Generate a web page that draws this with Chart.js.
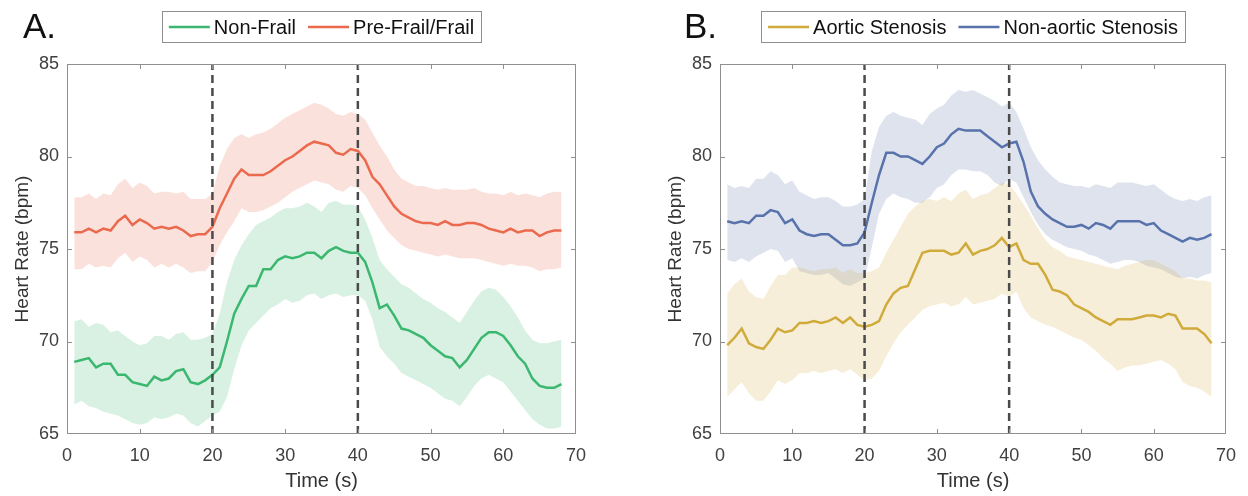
<!DOCTYPE html>
<html><head><meta charset="utf-8">
<script src="https://cdn.jsdelivr.net/npm/chart.js@4/dist/chart.umd.min.js"></script>
<style>
html,body{margin:0;padding:0;background:#fff;}
#wrap{position:relative;width:1248px;height:496px;overflow:hidden;}
.panel{position:absolute;top:0;width:624px;height:496px;}
</style></head><body>
<div id="wrap">
<div class="panel" style="left:0"><canvas id="chartA" width="624" height="496"></canvas></div>
<div class="panel" style="left:624px"><canvas id="chartB" width="624" height="496"></canvas></div>
</div>
<script>
// ---------- DATA ----------
const timeSec = [1,2,3,4,5,6,7,8,9,10,11,12,13,14,15,16,17,18,19,20,21,22,23,24,25,26,27,28,29,30,31,32,33,34,35,36,37,38,39,40,41,42,43,44,45,46,47,48,49,50,51,52,53,54,55,56,57,58,59,60,61,62,63,64,65,66,67,68];
const xTicks = [0,10,20,30,40,50,60,70];
const yTicks = [65,70,75,80,85];
const phaseMarks = [20,40];

const nonFrailMean = [68.9,69.0,69.1,68.6,68.8,68.8,68.2,68.2,67.8,67.7,67.6,68.1,67.9,68.0,68.4,68.5,67.8,67.7,67.9,68.2,
  68.6,70.0,71.5,72.3,73.0,73.0,73.9,73.9,74.4,74.6,74.5,74.6,74.8,74.8,74.5,74.9,75.1,74.9,74.8,74.8,
  74.3,73.2,71.8,72.0,71.4,70.7,70.6,70.4,70.2,69.8,69.5,69.2,69.1,68.6,69.0,69.6,70.2,70.5,70.5,70.3,69.8,69.2,68.8,68.0,67.6,67.5,67.5,67.7];
const nonFrailUpper = [71.1,71.2,70.8,71.0,70.9,70.5,70.6,70.3,70.0,69.8,69.9,70.3,70.3,70.1,70.4,70.5,70.1,70.1,70.2,70.4,
  71.5,73.2,74.4,75.2,75.8,76.3,76.5,76.7,77.0,77.2,77.2,77.3,77.5,77.3,77.0,77.5,77.6,77.4,77.4,77.3,
  76.6,75.6,74.4,73.9,73.5,73.1,72.9,72.6,72.3,72.1,71.8,71.6,71.3,71.0,71.6,72.2,72.7,72.9,72.8,72.4,71.9,71.3,70.6,70.1,69.9,69.9,70.0,70.1];
const nonFrailLower = [66.6,66.8,66.5,66.4,66.2,66.1,66.0,65.8,65.6,65.5,65.6,65.9,65.8,65.9,66.1,66.0,65.6,65.4,65.7,66.0,
  66.2,67.0,68.5,69.8,70.6,71.0,71.4,71.8,72.0,72.3,72.1,72.2,72.5,72.6,72.3,72.5,72.6,72.4,72.5,72.5,
  72.2,71.2,69.7,69.2,68.8,68.3,68.1,67.9,67.7,67.5,67.2,66.9,66.8,66.5,67.0,67.6,68.0,68.2,68.0,67.8,67.3,66.8,66.3,65.8,65.5,65.3,65.3,65.4];

const frailMean = [75.9,75.9,76.1,75.9,76.1,76.0,76.5,76.8,76.3,76.6,76.4,76.1,76.2,76.1,76.2,76.0,75.7,75.8,75.8,76.2,
  77.2,78.0,78.8,79.3,79.0,79.0,79.0,79.2,79.5,79.8,80.0,80.3,80.6,80.8,80.7,80.6,80.2,80.1,80.4,80.3,
  79.8,78.9,78.5,77.9,77.3,76.9,76.7,76.5,76.4,76.4,76.3,76.5,76.3,76.3,76.4,76.4,76.3,76.1,76.0,75.9,76.1,75.9,76.0,76.0,75.7,75.9,76.0,76.0];
const frailUpper = [77.8,77.8,78.0,77.7,78.0,77.9,78.5,78.8,78.3,78.6,78.4,78.0,78.1,78.1,78.0,78.1,77.7,77.7,77.7,78.0,
  79.5,80.4,81.0,81.2,81.0,81.2,81.3,81.5,81.8,82.1,82.3,82.5,82.7,82.9,82.8,82.6,82.3,82.2,82.4,82.3,
  82.0,81.3,80.6,80.0,79.3,78.8,78.6,78.4,78.4,78.3,78.2,78.3,78.2,78.2,78.2,78.3,78.1,78.0,78.0,77.9,78.1,77.9,78.0,77.9,77.8,78.0,78.1,78.1];
const frailLower = [73.9,73.9,74.2,74.0,74.1,74.0,74.5,74.8,74.3,74.6,74.4,74.0,74.2,74.0,74.2,74.0,73.7,73.8,73.8,74.3,
  75.2,75.9,76.5,77.2,77.0,77.0,77.1,77.3,77.5,77.8,78.1,78.3,78.5,78.7,78.6,78.5,78.2,78.1,78.4,78.3,
  77.9,77.2,76.6,76.0,75.6,75.2,75.0,74.9,74.8,74.7,74.6,74.7,74.6,74.5,74.5,74.5,74.4,74.3,74.2,74.1,74.2,74.1,74.1,74.0,73.8,73.9,73.9,74.0];

const asMean = [69.8,70.2,70.7,69.9,69.7,69.6,70.1,70.7,70.5,70.6,71.0,71.0,71.1,71.0,71.1,71.3,71.0,71.3,70.9,70.8,
  70.9,71.1,72.0,72.6,72.9,73.0,73.9,74.8,74.9,74.9,74.9,74.7,74.8,75.3,74.7,74.9,75.0,75.2,75.6,75.1,
  75.3,74.4,74.2,74.2,73.6,72.8,72.7,72.5,72.0,71.8,71.6,71.3,71.1,70.9,71.2,71.2,71.2,71.3,71.4,71.4,71.3,71.5,71.4,70.7,70.7,70.7,70.4,69.9];
const asUpper = [72.6,73.1,73.4,72.7,72.4,72.3,73.0,73.6,73.6,74.0,74.0,73.9,73.8,73.9,73.9,74.0,73.7,73.9,73.7,73.7,
  73.8,74.0,74.8,75.5,76.2,76.9,77.3,77.6,77.7,77.6,77.8,77.6,78.0,78.2,77.7,77.9,78.0,78.3,78.6,78.5,
  78.0,77.4,76.8,76.1,75.5,75.1,74.9,74.6,74.5,74.4,74.3,74.2,74.1,74.0,73.9,74.1,74.2,74.3,74.4,74.4,74.2,74.0,73.8,73.4,73.4,73.3,73.3,73.2];
const asLower = [67.0,67.4,67.8,67.2,66.8,66.8,67.3,67.9,67.7,67.9,68.3,68.3,68.4,68.3,68.4,68.5,68.3,68.5,68.2,67.9,
  68.0,68.4,69.2,69.9,70.5,70.9,71.3,71.7,71.9,72.0,72.1,71.9,72.0,72.4,72.0,72.1,72.2,72.3,72.6,72.4,
  72.7,71.8,71.3,71.1,70.9,70.8,70.6,70.4,70.2,70.1,69.8,69.5,69.1,68.8,68.4,68.6,68.7,68.7,68.8,68.9,69.0,68.8,68.5,67.8,67.6,67.5,67.3,67.0];

const nonAsMean = [76.5,76.4,76.5,76.4,76.8,76.8,77.1,77.0,76.4,76.6,76.0,75.8,75.7,75.8,75.8,75.5,75.2,75.2,75.3,75.9,
  77.5,79.0,80.2,80.2,80.0,80.0,79.8,79.6,80.0,80.5,80.7,81.2,81.5,81.4,81.4,81.4,81.1,80.8,80.5,80.7,
  80.8,79.7,78.1,77.3,76.9,76.6,76.4,76.2,76.2,76.3,76.1,76.4,76.3,76.1,76.5,76.5,76.5,76.5,76.3,76.4,76.0,75.8,75.6,75.4,75.6,75.5,75.6,75.8];
const nonAsUpper = [78.5,78.3,78.4,78.3,78.8,78.8,79.2,79.0,78.5,78.7,78.1,77.9,77.7,77.8,77.8,77.6,77.3,77.3,77.4,77.7,
  80.3,81.6,82.2,82.4,82.2,82.1,82.0,81.7,82.3,82.6,82.8,83.3,83.6,83.5,83.6,83.4,83.2,83.0,82.7,82.9,
  82.4,81.5,80.5,79.8,79.3,78.9,78.6,78.5,78.4,78.4,78.3,78.5,78.4,78.3,78.6,78.6,78.6,78.5,78.4,78.5,78.2,77.9,77.7,77.6,77.7,77.6,77.8,77.9];
const nonAsLower = [74.4,74.3,74.5,74.3,74.6,74.8,75.0,74.9,74.3,74.5,73.8,73.7,73.6,73.6,73.7,73.4,73.1,73.0,73.2,73.4,
  75.1,76.9,77.7,78.0,77.8,77.7,77.5,77.5,77.8,78.3,78.5,79.0,79.3,79.3,79.2,79.2,79.0,78.6,78.4,78.8,
  78.6,77.8,77.0,76.3,75.8,75.5,75.3,75.1,75.0,74.9,74.7,74.6,74.4,74.2,74.3,74.4,74.4,74.3,74.1,74.0,73.9,73.7,73.5,73.4,73.5,73.4,73.6,73.7];

// ---------- RENDERING ----------
const FONT = '"Liberation Sans", Arial, Helvetica, sans-serif';
const pts = arr => timeSec.map((t, i) => ({x: t, y: arr[i]}));

function rgba(hex, a) {
  const n = parseInt(hex.slice(1), 16);
  return `rgba(${(n >> 16) & 255},${(n >> 8) & 255},${n & 255},${a})`;
}

function groupDatasets(series) {
  const bands = [], lines = [];
  series.forEach(s => {
    bands.push({data: pts(s.upper), borderWidth: 0, pointRadius: 0, fill: '+1',
      backgroundColor: rgba(s.color, 0.2), borderColor: 'transparent', order: 5});
    bands.push({data: pts(s.lower), borderWidth: 0, pointRadius: 0, fill: false,
      borderColor: 'transparent', order: 5});
  });
  series.forEach(s => {
    lines.push({label: s.label, showInLegend: true, data: pts(s.mean), borderColor: s.color,
      borderWidth: 2.5, pointRadius: 0, fill: false, order: 2});
  });
  const marks = phaseMarks.map(m => ({data: [{x: m, y: yTicks[0]}, {x: m, y: yTicks[yTicks.length - 1]}],
    borderColor: '#4a4a4a', borderWidth: 2.5, borderDash: [8, 5], pointRadius: 0, fill: false, order: 0}));
  return bands.concat(lines, marks);
}

const framePlugin = {
  id: 'frame',
  afterDatasetsDraw(chart) {
    const {ctx, chartArea: ca, scales: {x, y}} = chart;
    ctx.save();
    ctx.strokeStyle = '#8f8f8f';
    ctx.lineWidth = 1;
    ctx.strokeRect(ca.left + 0.5, ca.top + 0.5, ca.right - ca.left - 1, ca.bottom - ca.top - 1);
    ctx.beginPath();
    x.ticks.forEach(t => {
      const px = Math.round(x.getPixelForValue(t.value)) + 0.5;
      if (px < ca.left + 2 || px > ca.right - 2) return;
      ctx.moveTo(px, ca.bottom); ctx.lineTo(px, ca.bottom - 5);
      ctx.moveTo(px, ca.top); ctx.lineTo(px, ca.top + 5);
    });
    y.ticks.forEach(t => {
      const py = Math.round(y.getPixelForValue(t.value)) + 0.5;
      if (py < ca.top + 2 || py > ca.bottom - 2) return;
      ctx.moveTo(ca.left, py); ctx.lineTo(ca.left + 5, py);
      ctx.moveTo(ca.right, py); ctx.lineTo(ca.right - 5, py);
    });
    ctx.stroke();
    ctx.restore();
  },
  afterDraw(chart, args, opts) {
    const {ctx, chartArea: ca} = chart;
    ctx.save();
    // panel letter
    ctx.fillStyle = '#111';
    ctx.font = '35px ' + FONT;
    ctx.textBaseline = 'alphabetic';
    ctx.textAlign = 'left';
    ctx.fillText(opts.letter, opts.letterX, 38);
    // legend
    const items = chart.data.datasets.filter(d => d.showInLegend);
    ctx.font = '20px ' + FONT;
    const lineLen = 41, gapLT = 4, gapItems = 12, padX = 7;
    const widths = items.map(d => ctx.measureText(d.label).width);
    const total = widths.reduce((a, w) => a + lineLen + gapLT + w, 0) + gapItems * (items.length - 1);
    const cx = (ca.left + ca.right) / 2;
    let x0 = cx - total / 2;
    const boxTop = 11.5, boxH = 31, midY = 27;
    ctx.fillStyle = '#fff';
    ctx.fillRect(x0 - padX, boxTop, total + 2 * padX, boxH);
    ctx.strokeStyle = '#8f8f8f';
    ctx.lineWidth = 1;
    ctx.strokeRect(Math.round(x0 - padX) + 0.5, boxTop, Math.round(total + 2 * padX), boxH);
    ctx.textBaseline = 'middle';
    items.forEach((d, i) => {
      ctx.strokeStyle = d.borderColor;
      ctx.lineWidth = 2.5;
      ctx.beginPath();
      ctx.moveTo(x0, midY); ctx.lineTo(x0 + lineLen, midY);
      ctx.stroke();
      ctx.fillStyle = '#111';
      ctx.fillText(d.label, x0 + lineLen + gapLT, midY + 1);
      x0 += lineLen + gapLT + widths[i] + gapItems;
    });
    ctx.restore();
  }
};

function makeChart(id, series, padding, letter, letterX) {
  return new Chart(document.getElementById(id), {
    type: 'line',
    data: {datasets: groupDatasets(series)},
    plugins: [framePlugin],
    options: {
      responsive: false,
      animation: false,
      events: [],
      layout: {padding},
      elements: {line: {tension: 0}},
      plugins: {
        legend: {display: false},
        tooltip: {enabled: false},
        frame: {letter, letterX},
        filler: {propagate: false}
      },
      scales: {
        x: {
          type: 'linear',
          min: xTicks[0], max: xTicks[xTicks.length - 1],
          afterBuildTicks: s => { s.ticks = xTicks.map(v => ({value: v})); },
          ticks: {padding: 11, color: '#404040', font: {size: 18, family: FONT}, maxRotation: 0, autoSkip: false},
          grid: {display: false, drawTicks: false},
          border: {display: false},
          title: {display: true, text: 'Time (s)', color: '#333', font: {size: 20, family: FONT}, padding: {top: 4, bottom: 3}},
          afterFit: s => { s.height = 62; }
        },
        y: {
          type: 'linear',
          min: yTicks[0], max: yTicks[yTicks.length - 1],
          afterBuildTicks: s => { s.ticks = yTicks.map(v => ({value: v})); },
          ticks: {padding: 8, color: '#404040', font: {size: 18, family: FONT}},
          grid: {display: false, drawTicks: false},
          border: {display: false},
          title: {display: true, text: 'Heart Rate (bpm)', color: '#333', font: {size: 19, family: FONT}, padding: {top: 4, bottom: 4}},
          afterFit: s => { s.width = 60; }
        }
      }
    }
  });
}

makeChart('chartA', [
  {label: 'Non-Frail', color: '#3bb76f', mean: nonFrailMean, upper: nonFrailUpper, lower: nonFrailLower},
  {label: 'Pre-Frail/Frail', color: '#eb6a4e', mean: frailMean, upper: frailUpper, lower: frailLower}
], {left: 7, right: 48, top: 64, bottom: 0}, 'A.', 23);

makeChart('chartB', [
  {label: 'Aortic Stenosis', color: '#d0ab3c', mean: asMean, upper: asUpper, lower: asLower},
  {label: 'Non-aortic Stenosis', color: '#5872ab', mean: nonAsMean, upper: nonAsUpper, lower: nonAsLower}
], {left: 36, right: 22, top: 64, bottom: 0}, 'B.', 60);
</script>
</body></html>
